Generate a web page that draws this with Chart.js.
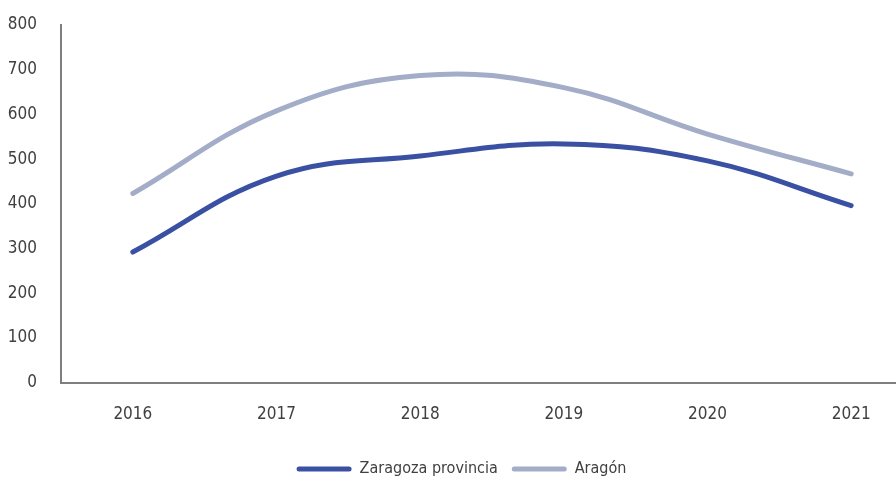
<!DOCTYPE html>
<html>
<head>
<meta charset="utf-8">
<script src="https://cdn.jsdelivr.net/npm/chart.js@4"></script>
<style>
  html, body { margin: 0; padding: 0; background: #fff; overflow: hidden; }
  #wrap { width: 951px; height: 479px; }
</style>
</head>
<body>
<div id="wrap"><canvas id="grafico"></canvas></div>
<script>
const anos = ['2016', '2017', '2018', '2019', '2020', '2021']
const zaragoza = [292, 462, 507, 534, 496, 396]
const aragon = [423, 608, 687, 660, 556, 467]
const ticks_y = [0, 100, 200, 300, 400, 500, 600, 700, 800]

const fonte = "'DejaVu Sans Condensed', 'DejaVu Sans', sans-serif"
const cor_texto = '#404040'

const ctx = document.getElementById('grafico')

new Chart(ctx, {
  type: 'line',
  data: {
    labels: anos,
    datasets: [
      {
        label: 'Zaragoza provincia',
        data: zaragoza,
        borderColor: '#3a51a3',
        backgroundColor: '#3a51a3',
        borderWidth: 5,
        tension: 0.4,
        pointRadius: 0,
        borderCapStyle: 'round'
      },
      {
        label: 'Aragón',
        data: aragon,
        borderColor: '#a3adc8',
        backgroundColor: '#a3adc8',
        borderWidth: 5,
        tension: 0.4,
        pointRadius: 0,
        borderCapStyle: 'round'
      }
    ]
  },
  options: {
    responsive: true,
    maintainAspectRatio: false,
    animation: false,
    layout: { padding: { top: 25, right: 28, left: 0, bottom: -8 } },
    scales: {
      x: {
        offset: true,
        grid: { drawOnChartArea: false, drawTicks: true, tickLength: 18, color: 'rgba(0,0,0,0)' },
        border: { color: '#7f7f7f', width: 2 },
        afterFit: axis => { axis.height += 18 },
        ticks: {
          color: cor_texto,
          font: { family: fonte, size: 17 },
          padding: 4
        }
      },
      y: {
        min: 0,
        max: 800,
        afterBuildTicks: axis => { axis.ticks = ticks_y.map(v => ({ value: v })) },
        afterFit: axis => { axis.width = 61 },
        grid: { drawOnChartArea: false, drawTicks: true, tickLength: 20, color: 'rgba(0,0,0,0)' },
        border: { color: '#7f7f7f', width: 2 },
        ticks: {
          color: cor_texto,
          font: { family: fonte, size: 17 },
          padding: 4
        }
      }
    },
    plugins: {
      legend: {
        position: 'bottom',
        labels: {
          color: cor_texto,
          font: { family: fonte, size: 16 },
          boxWidth: 55,
          boxHeight: 5,
          useBorderRadius: true,
          borderRadius: 2.5,
          padding: 14,
          generateLabels: chart => {
            const itens = Chart.defaults.plugins.legend.labels.generateLabels(chart)
            itens.forEach(item => { item.lineWidth = 0 })
            return itens
          }
        }
      },
      tooltip: { enabled: false }
    }
  }
})
</script>
</body>
</html>
